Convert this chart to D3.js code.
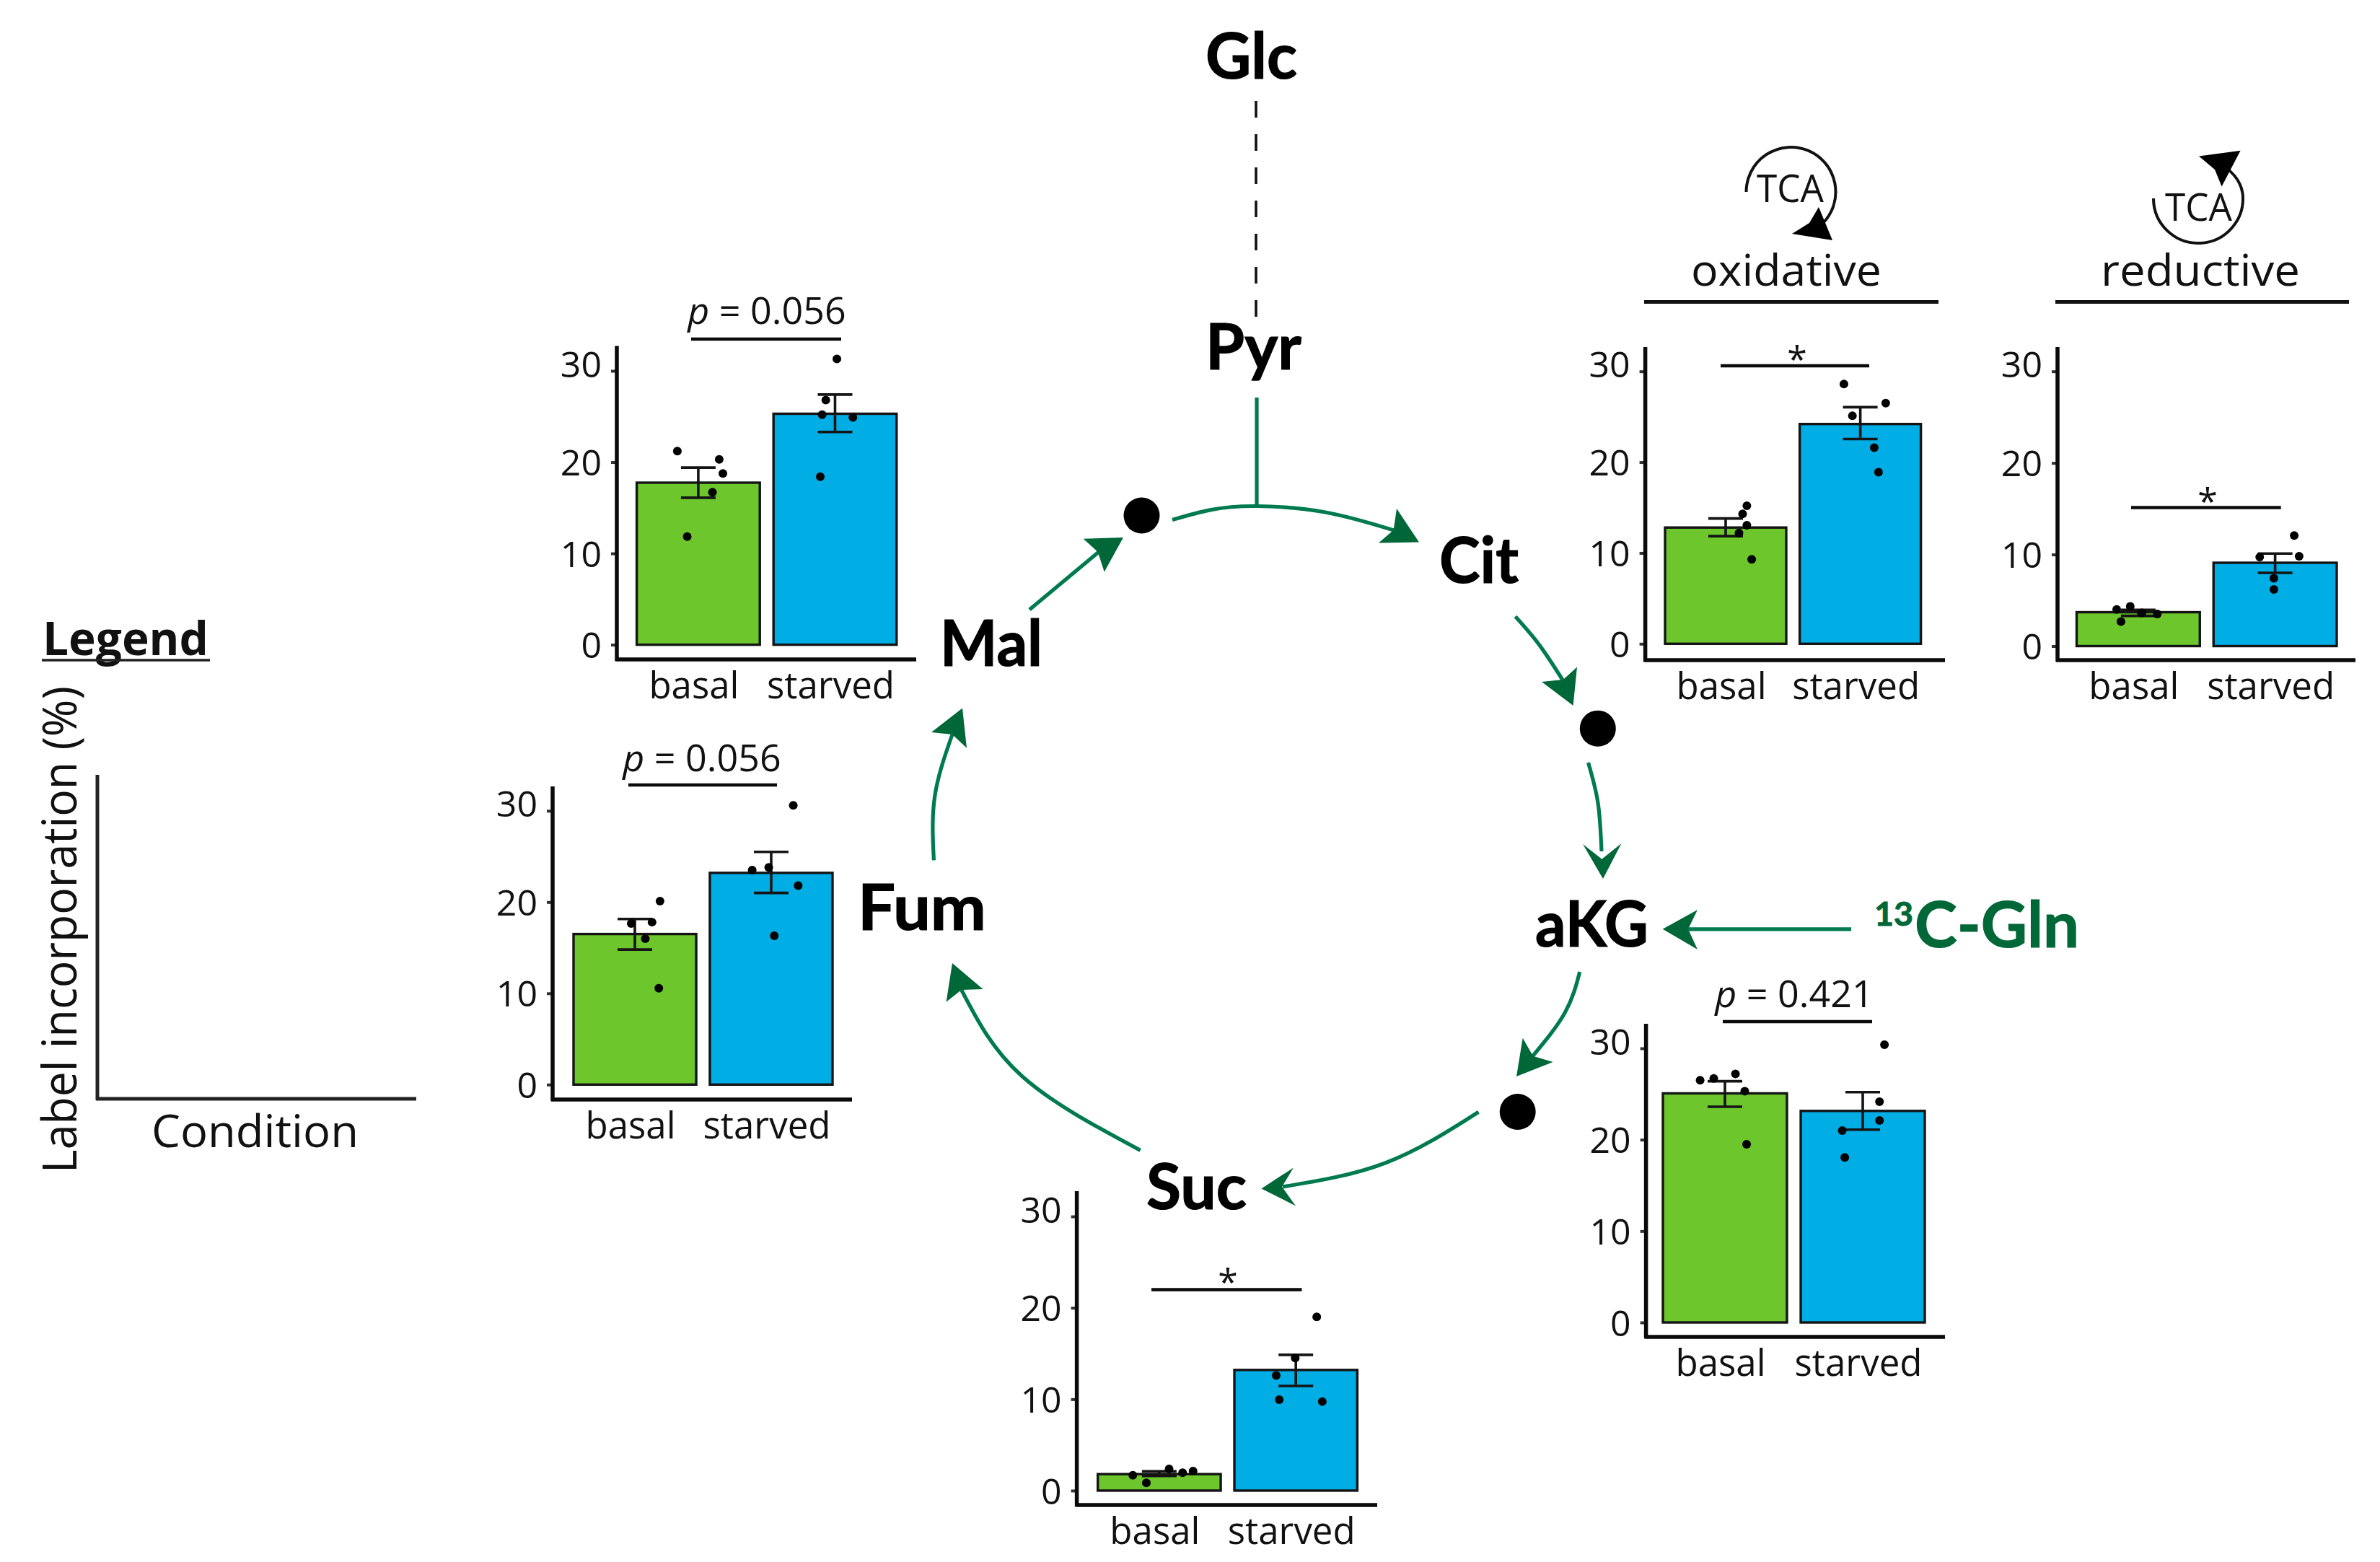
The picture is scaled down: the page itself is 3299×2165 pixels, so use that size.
<!DOCTYPE html>
<html><head><meta charset="utf-8">
<script src="https://cdnjs.cloudflare.com/ajax/libs/d3/7.8.5/d3.min.js"></script>
<style>
html,body{margin:0;padding:0;background:#fff}
svg{display:block}
text{font-family:"Open Sans",sans-serif;fill:#111}
</style></head><body>
<svg id="c" width="3299" height="2165"></svg>
<script>
// ---- data ----
const conditions = ['basal','starved'];
const yTickValues = [0,10,20,30];

const malMean=[17.75,25.3], malLow=[16.1,23.3], malHigh=[19.4,27.4];
const malBasal=[21.2,20.3,18.75,16.7,11.85], malStarved=[31.3,26.8,25.2,24.9,18.4];
const malJitBasal=[-.34,.34,.40,.23,-.18], malJitStarved=[.03,-.15,-.21,.29,-.24];

const fumMean=[16.5,23.2], fumLow=[14.8,21.0], fumHigh=[18.15,25.5];
const fumBasal=[20.1,17.65,17.8,16.0,10.55], fumStarved=[30.6,23.8,23.5,21.8,16.3];
const fumJitBasal=[.41,-.06,.28,.17,.39], fumJitStarved=[.36,-.04,-.31,.44,.05];

const sucMean=[1.8,13.2], sucLow=[1.6,11.45], sucHigh=[2.1,14.85];
const sucBasal=[1.67,.85,2.36,1.95,2.14], sucStarved=[19.0,14.5,12.6,9.94,9.74];
const sucJitBasal=[-.43,-.21,.16,.38,.55], sucJitStarved=[.34,-.01,-.32,-.27,.43];

const akgMean=[25.07,23.15], akgLow=[23.6,21.1], akgHigh=[26.4,25.2];
const akgBasal=[26.5,26.7,27.2,25.3,19.5], akgStarved=[30.4,24.15,22.1,21.0,18.06];
const akgJitBasal=[-.40,-.18,.17,.32,.35], akgJitStarved=[.35,.27,.27,-.33,-.29];

const oxMean=[12.8,24.2], oxLow=[11.85,22.55], oxHigh=[13.8,26.05];
const oxBasal=[15.2,14.3,13.05,12.2,9.3], oxStarved=[28.6,26.5,25.1,21.6,18.9];
const oxJitBasal=[.35,.28,.35,.22,.43], oxJitStarved=[-.27,.42,-.13,.23,.3];

const redMean=[3.7,9.1], redLow=[3.3,8.0], redHigh=[3.95,10.1];
const redBasal=[4.0,4.33,3.63,3.5,2.68], redStarved=[12.07,9.72,9.8,7.4,6.18];
const redJitBasal=[-.35,-.13,.06,.31,-.28], redJitStarved=[.31,-.25,.39,-.02,-.02];

// ---- layout (separate from the values) ----
const GREEN='#6cc62c', BLUE='#00ade4', INK='#141414', SHAFT='#007a4f', HEAD='#006838';
const panels=[
 {m:malMean,l:malLow,h:malHigh,b:malBasal,s:malStarved,jb:malJitBasal,js:malJitStarved,
  ax:855,top:479.5,bot:914,end:1270,y0:893.6,y30:514,L:882.6,R:1242.8,sig:[958,1166,470],p:['0.056',1063,449]},
 {m:fumMean,l:fumLow,h:fumHigh,b:fumBasal,s:fumStarved,jb:fumJitBasal,js:fumJitStarved,
  ax:766,top:1090,bot:1524,end:1181,y0:1503.3,y30:1123.8,L:795,R:1154,sig:[871,1077,1088],p:['0.056',973,1069]},
 {m:sucMean,l:sucLow,h:sucHigh,b:sucBasal,s:sucStarved,jb:sucJitBasal,js:sucJitStarved,
  ax:1492.6,top:1651,bot:2086,end:1909,y0:2066,y30:1686,L:1521.7,R:1881.4,sig:[1596,1804.5,1787.5],star:[1702,1768]},
 {m:akgMean,l:akgLow,h:akgHigh,b:akgBasal,s:akgStarved,jb:akgJitBasal,js:akgJitStarved,
  ax:2281.6,top:1419,bot:1853,end:2696,y0:1833,y30:1453,L:2305,R:2668,sig:[2388,2595,1416],p:['0.421',2487,1396]},
 {m:oxMean,l:oxLow,h:oxHigh,b:oxBasal,s:oxStarved,jb:oxJitBasal,js:oxJitStarved,
  ax:2280.6,top:481,bot:915,end:2696,y0:892.3,y30:514.7,L:2308,R:2662.6,sig:[2385,2591,507],star:[2491,488.6]},
 {m:redMean,l:redLow,h:redHigh,b:redBasal,s:redStarved,jb:redJitBasal,js:redJitStarved,
  ax:2852,top:481,bot:915,end:3265,y0:895.5,y30:514.7,L:2878.5,R:3239,sig:[2954,3161.7,703.5],star:[3060,686]}
];

const svg=d3.select('#c');
svg.append('rect').attr('width',3299).attr('height',2165).attr('fill','#fff');

function seg(g,x1,y1,x2,y2,w,c){
  return g.append('line').attr('x1',x1).attr('y1',y1).attr('x2',x2).attr('y2',y2)
    .attr('stroke',c||INK).attr('stroke-width',w);
}
function label(g,str,x,y,size,opt){
  opt=opt||{};
  const t=g.append('text').attr('x',x).attr('y',y).attr('font-size',size)
    .attr('font-weight',opt.weight||400).attr('text-anchor',opt.anchor||'start').text(str);
  if(opt.width) t.attr('textLength',opt.width).attr('lengthAdjust','spacingAndGlyphs');
  if(opt.fill) t.style('fill',opt.fill);
  if(opt.family) t.style('font-family',opt.family);
  return t;
}

// ---- bar panels ----
panels.forEach(p=>{
  const g=svg.append('g');
  const y=d3.scaleLinear().domain([0,30]).range([p.y0,p.y30]);
  const x=d3.scaleBand().domain(conditions).range([p.L,p.R]).paddingInner(0.1);
  const rows=conditions.map((c,i)=>({c,i,mean:p.m[i],lo:p.l[i],hi:p.h[i],
    pts:(i?p.s:p.b),jit:(i?p.js:p.jb)}));

  g.selectAll('rect.bar').data(rows).join('rect').attr('class','bar')
    .attr('x',d=>x(d.c)).attr('width',x.bandwidth())
    .attr('y',d=>y(d.mean)).attr('height',d=>y(0)-y(d.mean))
    .attr('fill',d=>d.i?BLUE:GREEN).attr('stroke',INK).attr('stroke-width',3.4);

  const cx=c=>x(c)+x.bandwidth()/2, cap=24;
  const err=g.selectAll('g.err').data(rows).join('g').attr('class','err')
    .attr('stroke',INK).attr('stroke-width',3.6);
  err.append('line').attr('x1',d=>cx(d.c)).attr('x2',d=>cx(d.c)).attr('y1',d=>y(d.lo)).attr('y2',d=>y(d.hi));
  err.append('line').attr('x1',d=>cx(d.c)-cap).attr('x2',d=>cx(d.c)+cap).attr('y1',d=>y(d.lo)).attr('y2',d=>y(d.lo));
  err.append('line').attr('x1',d=>cx(d.c)-cap).attr('x2',d=>cx(d.c)+cap).attr('y1',d=>y(d.hi)).attr('y2',d=>y(d.hi));

  rows.forEach(r=>{
    g.selectAll(null).data(r.pts).join('circle')
      .attr('cx',(d,i)=>cx(r.c)+r.jit[i]*x.bandwidth()/2)
      .attr('cy',d=>y(d)).attr('r',6).attr('fill','#000');
  });

  // y axis
  const ay=g.append('g').attr('transform',`translate(${p.ax},0)`)
    .call(d3.axisLeft(y).tickValues(yTickValues).tickSize(8).tickPadding(13).tickFormat(d3.format('d')));
  ay.select('.domain').remove();
  ay.selectAll('.tick line').attr('stroke','#333').attr('stroke-width',4);
  ay.selectAll('.tick text').attr('font-size',50).attr('font-family','"Open Sans",sans-serif').style('fill','#111')
    .attr('dy',d=>d===30?'0.16em':'0.36em');
  seg(g,p.ax,p.top,p.ax,p.bot+2,5.5,'#0a0a0a');

  // x axis
  const ax=g.append('g').attr('transform',`translate(0,${p.bot})`)
    .call(d3.axisBottom(x).tickSize(0));
  ax.select('.domain').remove();
  ax.selectAll('.tick text').attr('font-size',51).attr('font-family','"Open Sans",sans-serif').style('fill','#111')
    .attr('y',54).attr('dy',0).attr('dx',-6);
  seg(g,p.ax-2,p.bot,p.end,p.bot,5.5,'#0a0a0a');

  // significance
  seg(g,p.sig[0],p.sig[2],p.sig[1],p.sig[2],4.6,'#0a0a0a');
  if(p.p){
    const t=g.append('text').attr('x',p.p[1]).attr('y',p.p[2]).attr('font-size',52).attr('text-anchor','middle');
    t.append('tspan').attr('font-style','italic').text('p');
    t.append('tspan').text(' = '+p.p[0]);
  }
  if(p.star) label(g,'*',p.star[0],p.star[1]+27,50,{anchor:'middle'});
});

// ---- legend ----
const lg=svg.append('g');
label(lg,'Legend',59,908,64,{weight:700,width:230});
seg(lg,58,915,291,915,3.5,'#222');
seg(lg,135,1074,135,1525,5,'#222');
seg(lg,133,1523,577,1523,5,'#222');
label(lg,'Condition',210,1590,62,{width:287});
label(lg,'Label incorporation (%)',0,0,65,{width:675}).attr('transform','translate(106,1626) rotate(-90)');

// ---- pathway ----
const net=svg.append('g');
const shaftLine=d3.line().curve(d3.curveNatural);
const headLine=d3.line().curve(d3.curveLinearClosed);
const arrows=[
 {s:[[1625,720.5],[1678.6,706.6],[1742,701.5],[1837,710],[1932,735]],h:[[1967,751.5],[1936,705],[1931.6,734.7],[1911,752.6]]},
 {s:[[2100.5,854.6],[2133.7,893.9],[2167,944]],h:[[2180.6,978],[2186,924.5],[2166.8,942],[2137,945]]},
 {s:[[2201.5,1057],[2215,1113],[2220,1180]],h:[[2222,1218],[2247.5,1169],[2220.4,1190.8],[2194,1170]]},
 {s:[[2566,1287.8],[2340,1287.8]],h:[[2304.6,1287.8],[2353,1261],[2340,1287.8],[2353,1316]]},
 {s:[[2189.8,1347],[2169,1404],[2123.5,1465]],h:[[2102,1492],[2110.7,1438.8],[2125,1463.8],[2152.6,1472]]},
 {s:[[2049.5,1541.3],[1920.7,1611.7],[1778,1645]],h:[[1748.5,1647.4],[1793,1618.4],[1777,1644.9],[1796,1671.4]]},
 {s:[[1580.7,1594.4],[1416.8,1491.8],[1332.7,1372]],h:[[1320,1335],[1362.6,1371],[1332.7,1372],[1311.6,1388.8]]},
 {s:[[1294.4,1192.3],[1295.7,1104],[1320,1018]],h:[[1334,981.6],[1291,1015],[1320,1018],[1340,1036.7]]},
 {s:[[1427,845],[1523,765]],h:[[1557,745],[1501.7,746.7],[1521.7,765],[1530.7,792.7]]}
];
net.selectAll('path.shaft').data(arrows).join('path').attr('class','shaft')
  .attr('d',d=>shaftLine(d.s)).attr('fill','none').attr('stroke',SHAFT).attr('stroke-width',5.2);
net.selectAll('path.head').data(arrows).join('path').attr('class','head')
  .attr('d',d=>headLine(d.h)).attr('fill',HEAD);
seg(net,1742,551,1742,701,5.2,SHAFT);
seg(net,1741,140,1741,439,3.6,'#111').attr('stroke-dasharray','23 23');
net.selectAll('circle').data([[1582.5,714.5],[2214.8,1009.7],[2103.7,1541]]).join('circle')
  .attr('cx',d=>d[0]).attr('cy',d=>d[1]).attr('r',25).attr('fill','#000');

const nodeLabels=[['Glc',1671,108.7,127],['Pyr',1671,512,133],['Cit',1995,808,110],['aKG',2128,1312,157],
  ['Suc',1589,1675.5,139],['Fum',1189,1288.6,178],['Mal',1303,922.7,142]];
const BIG='Lato,"Open Sans",sans-serif';
nodeLabels.forEach(n=>label(net,n[0],n[1],n[2],88,{weight:700,width:n[3],family:BIG}).style('fill','#000').attr('stroke','#000').attr('stroke-width',1.2));
label(net,'13',2598,1283,45,{weight:700,width:54,fill:HEAD,family:BIG}).attr('stroke',HEAD).attr('stroke-width',1);
label(net,'C-Gln',2654,1313,88,{weight:700,width:228,fill:HEAD,family:BIG}).attr('stroke',HEAD).attr('stroke-width',1.2);

// ---- oxidative / reductive headers ----
const hd=svg.append('g');
seg(hd,2279,418.5,2687,418.5,5,'#111');
seg(hd,2849,418.5,3256,418.5,5,'#111');
label(hd,'oxidative',2344,396,61,{width:264});
label(hd,'reductive',2912,396,61,{width:276});
label(hd,'TCA',2435,280.4,53,{width:93});
label(hd,'TCA',3001,305.5,53,{width:93});
hd.append('path').attr('d',()=>{const q=d3.path();q.arc(2482.5,266,62,Math.PI,Math.PI*2+Math.PI/4);return q.toString();})
  .attr('fill','none').attr('stroke','#111').attr('stroke-width',4);
hd.append('path').attr('d',()=>{const q=d3.path();q.arc(3047,275,62,Math.PI,-0.1,true);q.quadraticCurveTo(3106,248,3085,232);return q.toString();})
  .attr('fill','none').attr('stroke','#111').attr('stroke-width',4);
hd.append('path').attr('d',headLine([[2521,287],[2540,333],[2484,324],[2508,309]])).attr('fill','#000');
hd.append('path').attr('d',headLine([[3105.6,208.8],[3048,216.6],[3070,235],[3079.6,258.5]])).attr('fill','#000');
</script>
</body></html>
